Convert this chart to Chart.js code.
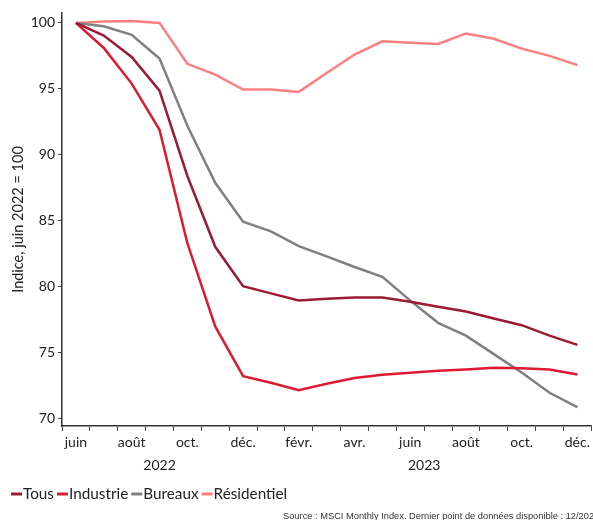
<!DOCTYPE html>
<html lang="fr">
<head>
<meta charset="utf-8">
<script src="https://cdn.jsdelivr.net/npm/chart.js@4/dist/chart.umd.min.js"></script>
<style>
  html, body { margin: 0; padding: 0; background: #fff; }
  #wrap { position: relative; width: 593px; height: 520px; }
</style>
</head>
<body>
<div id="wrap"><canvas id="c" width="593" height="520"></canvas></div>
<script>
// Monthly index values, June 2022 = 100
const months = ['juin','juil.','août','sept.','oct.','nov.','déc.','janv.','févr.','mars','avr.','mai',
                'juin','juil.','août','sept.','oct.','nov.','déc.'];
const years = ['2022','2022','2022','2022','2022','2022','2022',
               '2023','2023','2023','2023','2023','2023','2023','2023','2023','2023','2023','2023'];

const tous        = [100, 99.04, 97.42, 94.87, 88.4, 83.03, 80.05, 79.5, 78.96, 79.09, 79.19, 79.19, 78.86, 78.48, 78.13, 77.6, 77.09, 76.3, 75.6];
const industrie   = [100, 98.1, 95.4, 91.9, 83.3, 77.0, 73.23, 72.73, 72.17, 72.65, 73.08, 73.33, 73.48, 73.64, 73.73, 73.86, 73.83, 73.73, 73.36];
const bureaux     = [100, 99.75, 99.1, 97.3, 92.2, 87.88, 84.93, 84.2, 83.08, 82.3, 81.5, 80.75, 78.95, 77.27, 76.3, 74.9, 73.5, 71.97, 70.88];
const residentiel = [100, 100.1, 100.15, 100, 96.9, 96.08, 94.95, 94.95, 94.77, 96.2, 97.6, 98.6, 98.5, 98.4, 99.2, 98.8, 98.05, 97.5, 96.8];

const yTicks = [70, 75, 80, 85, 90, 95, 100];
const yearLabels = ['2022', '2023'];
const sourceText = 'Source : MSCI Monthly Index. Dernier point de données disponible : 12/2023';

const FONT = 'Lato, "Open Sans", sans-serif';
const INK = '#222';

const series = [
  { label: 'Tous',        data: tous,        color: '#9b1b34' },
  { label: 'Industrie',   data: industrie,   color: '#dc1a32' },
  { label: 'Bureaux',     data: bureaux,     color: '#808080' },
  { label: 'Résidentiel', data: residentiel, color: '#ff7f7f' }
];

// Year row under the month labels, centred on each year's months
const yearRow = {
  id: 'yearRow',
  afterDraw(chart) {
    const { ctx, scales: { x } } = chart;
    ctx.save();
    ctx.font = '14px ' + FONT;
    ctx.fillStyle = INK;
    ctx.textAlign = 'center';
    ctx.textBaseline = 'middle';
    yearLabels.forEach(yr => {
      const first = years.indexOf(yr);
      const last = years.lastIndexOf(yr);
      const cx = (x.getPixelForValue(first) + x.getPixelForValue(last)) / 2;
      ctx.fillText(yr, cx, 465);
    });
    ctx.restore();
  }
};

// Compact legend row and source note
const legendRow = {
  id: 'legendRow',
  afterDraw(chart) {
    const { ctx } = chart;
    ctx.save();
    ctx.font = '15.3px ' + FONT;
    ctx.textBaseline = 'middle';
    let px = 11;
    const py = 494;
    chart.data.datasets.forEach(ds => {
      ctx.strokeStyle = ds.borderColor;
      ctx.lineWidth = 3;
      ctx.beginPath();
      ctx.moveTo(px, py);
      ctx.lineTo(px + 11, py);
      ctx.stroke();
      px += 12;
      ctx.fillStyle = INK;
      ctx.fillText(ds.label, px, py);
      px += ctx.measureText(ds.label).width + 3;
    });
    ctx.font = '9.3px "Liberation Sans", Arial, sans-serif';
    ctx.fillStyle = '#333';
    ctx.textBaseline = 'alphabetic';
    ctx.fillText(sourceText, 283, 519);
    ctx.restore();
  }
};

new Chart(document.getElementById('c'), {
  type: 'line',
  data: {
    labels: months,
    datasets: series.map(s => ({
      label: s.label,
      data: s.data,
      borderColor: s.color,
      backgroundColor: s.color,
      borderWidth: 2.5,
      pointRadius: 0,
      tension: 0
    }))
  },
  options: {
    responsive: false,
    animation: false,
    layout: { padding: { top: 13, right: 0, bottom: 0, left: 0 } },
    plugins: {
      legend: { display: false },
      tooltip: { enabled: false }
    },
    scales: {
      x: {
        offset: true,
        grid: {
          offset: true,
          drawOnChartArea: false,
          drawTicks: true,
          tickLength: 5,
          tickColor: '#444',
          lineWidth: 1
        },
        border: { color: '#333', width: 1.5 },
        ticks: {
          autoSkip: false,
          maxRotation: 0,
          padding: 3,
          color: INK,
          font: { family: FONT, size: 14 },
          callback: (v, i) => (i % 2 === 0 ? months[i] : '')
        },
        afterFit: s => { s.height = 94; }
      },
      y: {
        min: 69.45,
        max: 100.75,
        afterBuildTicks: s => { s.ticks = yTicks.map(v => ({ value: v })); },
        grid: {
          drawOnChartArea: false,
          tickLength: 4,
          tickColor: '#444'
        },
        border: { color: '#333', width: 1.5 },
        ticks: {
          padding: 3,
          color: INK,
          font: { family: FONT, size: 14 }
        },
        title: {
          display: true,
          text: 'Indice, juin 2022 = 100',
          color: INK,
          font: { family: FONT, size: 14.5 },
          padding: { top: 10, bottom: 0 }
        },
        afterFit: s => { s.width = 62; }
      }
    }
  },
  plugins: [yearRow, legendRow]
});
</script>
</body>
</html>
